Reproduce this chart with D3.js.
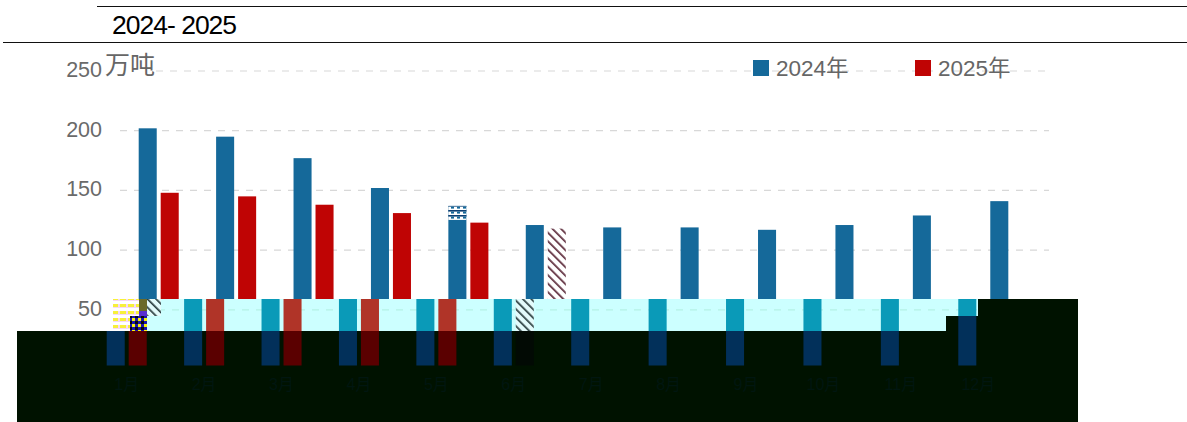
<!DOCTYPE html>
<html><head><meta charset="utf-8">
<script src="https://cdn.jsdelivr.net/npm/d3@7"></script>
<style>html,body{margin:0;padding:0;background:#fff;overflow:hidden}svg{display:block}
text{font-family:"Liberation Sans","Noto Sans CJK SC",sans-serif}</style></head>
<body><svg id="c" width="1187" height="422"></svg>
<script>
const categories = ["1月","2月","3月","4月","5月","6月","7月","8月","9月","10月","11月","12月"];
const seriesNames = ["2024年","2025年"];
const values2024 = [202,195,177,152,137,121,119,119,117,121,129,141];
const values2025 = [148,145,138,131,123,118,null,null,null,null,null,null];
const yTicks = [50,100,150,200,250];
const colors = {"2024年":"#15699a","2025年":"#bf0404"};
const bandColors = {"2024年":"#0a9ab8","2025年":"#b03428"};
const darkColors = {"2024年":"#02305a","2025年":"#5a0000"};

const svg = d3.select("#c");
const defs = svg.append("defs");
const W = 1187, H = 422;
const x0 = d3.scaleBand().domain(categories).range([120,1049]);
const x1 = d3.scaleBand().domain(seriesNames).range([0,x0.bandwidth()]).paddingInner(0.18).paddingOuter(0.85);
const y = d3.scaleLinear().domain([0,250]).range([369.5,71]);
const rows = categories.flatMap((c,i)=>[
  {c,i,s:seriesNames[0],v:values2024[i]},
  {c,i,s:seriesNames[1],v:values2025[i]}]).filter(d=>d.v!=null);

function pattern(id,w,h,bg,draw,transform){
  const p = defs.append("pattern").attr("id",id).attr("width",w).attr("height",h).attr("patternUnits","userSpaceOnUse");
  if(transform) p.attr("patternTransform",transform);
  p.append("rect").attr("width",w).attr("height",h).attr("fill",bg);
  draw(p);
}
pattern("hatchRed",6,6,"#fff",p=>p.append("rect").attr("width",1.7).attr("height",6).attr("fill","#5c2a3a"),"rotate(-45)");
pattern("hatchDark",6,6,"#e4fbfb",p=>p.append("rect").attr("width",1.7).attr("height",6).attr("fill","#2c3f40"),"rotate(-45)");
pattern("checker",6,6,"#1c14b0",p=>{
  p.append("rect").attr("width",3).attr("height",3).attr("fill","#f7f20a");
  p.append("rect").attr("x",3).attr("y",3).attr("width",3).attr("height",3).attr("fill","#0a0a0a");
});
pattern("stripeTop",6,5,"#fff",p=>{
  p.append("rect").attr("width",6).attr("height",1.6).attr("fill","#0c3f73");
  p.append("rect").attr("x",1).attr("y",1.6).attr("width",3).attr("height",2).attr("fill","#15699a");
});
pattern("yellowBars",8,7,"#f6d8f6",p=>{
  p.append("rect").attr("width",8).attr("height",3).attr("fill","#fff");
  p.append("rect").attr("width",6).attr("height",3).attr("y",3).attr("fill","#f7f03a");
});

function clip(id,pts){
  defs.append("clipPath").attr("id",id).append("polygon").attr("points",pts.map(p=>p.join(",")).join(" "));
}
const cyanPoly = [[147,299],[978,299],[978,316],[946,316],[946,331],[147,331]];
const darkPoly = [[17,331],[946,331],[946,316],[978,316],[978,299],[1078,299],[1078,422],[17,422]];
clip("clipTop",[[0,0],[W,0],[W,299],[0,299]]);
clip("clipCyan",cyanPoly);
clip("clipDark",darkPoly);

svg.append("rect").attr("width",W).attr("height",H).attr("fill","#fff");

// header
svg.append("line").attr("x1",97).attr("x2",W).attr("y1",6.5).attr("y2",6.5).attr("stroke","#111").attr("stroke-width",1);
svg.append("line").attr("x1",3).attr("x2",W).attr("y1",42.5).attr("y2",42.5).attr("stroke","#111").attr("stroke-width",1);
svg.append("text").attr("x",112).attr("y",34).attr("font-size",26.5).attr("letter-spacing",-1).attr("fill","#000").text("2024- 2025");

// upper region
const upper = svg.append("g").attr("clip-path","url(#clipTop)");
upper.append("g").selectAll("line").data(yTicks).join("line")
  .attr("x1",d=>d===250?156:120).attr("x2",1049).attr("y1",y).attr("y2",y)
  .attr("stroke","#d8d8d8").attr("stroke-width",1.2).attr("stroke-dasharray","7 7");

function bars(g,colorMap,fillFor){
  g.selectAll("rect").data(rows).join("rect")
    .attr("x",d=>x0(d.c)+x1(d.s)).attr("width",x1.bandwidth())
    .attr("y",d=>y(d.v)).attr("height",d=>y(0)-y(d.v))
    .attr("fill",d=>fillFor?fillFor(d):colorMap[d.s]);
}
bars(upper.append("g"),colors,d=>(d.i===5&&d.s===seriesNames[1])?"url(#hatchRed)":colors[d.s]);

// glitched cap on the fifth 2024 bar
const cap = rows.find(d=>d.i===4&&d.s===seriesNames[0]);
upper.append("rect").attr("x",x0(cap.c)+x1(cap.s)).attr("width",x1.bandwidth())
  .attr("y",y(cap.v)).attr("height",14).attr("fill","url(#stripeTop)");

// y axis labels
const axis = d3.axisLeft(y).tickValues(yTicks).tickSize(0).tickPadding(0);
const ag = svg.append("g").attr("transform","translate(102,-1.5)").call(axis);
ag.select(".domain").remove();
ag.selectAll("text").attr("font-size",21.5).attr("fill","#6a6a6a").attr("font-family","Liberation Sans").attr("dy","0.32em");

svg.append("text").attr("x",105).attr("y",74).attr("font-size",25).attr("fill","#666").text("万吨");

// legend
const legendX = [753,915];
const lg = svg.append("g").selectAll("g").data(seriesNames).join("g").attr("transform",(d,i)=>`translate(${legendX[i]},0)`);
lg.append("rect").attr("y",60).attr("width",16).attr("height",16).attr("fill",d=>colors[d]);
lg.append("text").attr("x",23).attr("y",76).attr("font-size",22.5).attr("fill","#666").text(d=>d);

// cyan shifted band
const shift = -32;
const mid = svg.append("g");
mid.append("polygon").attr("points",cyanPoly.map(p=>p.join(",")).join(" ")).attr("fill","#ccffff");
const midC = mid.append("g").attr("clip-path","url(#clipCyan)");
const midIn = midC.append("g").attr("transform",`translate(${shift},0)`);
midIn.append("line").attr("x1",120).attr("x2",1049).attr("y1",y(50)).attr("y2",y(50))
  .attr("stroke","#b4f2e6").attr("stroke-width",1.2).attr("stroke-dasharray","7 7");
bars(midIn.append("g"),bandColors,d=>(d.i===5&&d.s===seriesNames[1])?"url(#hatchDark)":bandColors[d.s]);

// dark region
const dark = svg.append("g");
dark.append("polygon").attr("points",darkPoly.map(p=>p.join(",")).join(" ")).attr("fill","#001200");
const darkC = dark.append("g").attr("clip-path","url(#clipDark)");
const darkIn = darkC.append("g").attr("transform",`translate(${shift},-4)`);
bars(darkIn.append("g"),darkColors,d=>(d.i===5&&d.s===seriesNames[1])?"#020a04":darkColors[d.s]);
darkIn.append("g").selectAll("text").data(categories).join("text")
  .attr("x",d=>x0(d)+x0.bandwidth()/2).attr("y",394).attr("text-anchor","middle")
  .attr("font-size",16).attr("fill","#011610").text(d=>d);

// corrupted block to the left of the band
svg.append("rect").attr("x",113).attr("y",299).attr("width",27).attr("height",32).attr("fill","url(#yellowBars)");
svg.append("rect").attr("x",139).attr("y",299).attr("width",8).attr("height",17).attr("fill","#6a6a2a");
svg.append("rect").attr("x",139).attr("y",311).attr("width",8).attr("height",9).attr("fill","#5a30d0");
svg.append("rect").attr("x",130).attr("y",316).attr("width",17).attr("height",15).attr("fill","url(#checker)");
svg.append("rect").attr("x",147).attr("y",299).attr("width",14).attr("height",17).attr("fill","url(#hatchDark)");
</script></body></html>
